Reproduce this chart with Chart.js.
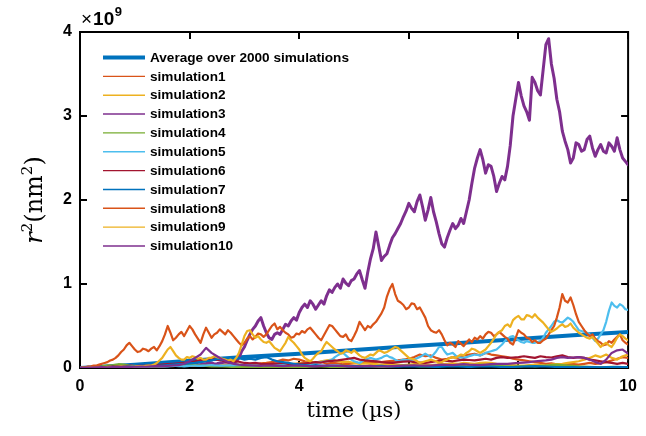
<!DOCTYPE html>
<html>
<head>
<meta charset="utf-8">
<script src="https://cdn.jsdelivr.net/npm/chart.js@4/dist/chart.umd.min.js"></script>
<style>
  html, body { margin: 0; padding: 0; background: #fff; }
  #c { display: block; }
</style>
</head>
<body>
<canvas id="c" width="646" height="436"></canvas>
<script>
// Mean squared displacement r^2 (in units of 1e9 nm^2) versus time (µs)
const COARSE_STEP_US = 0.1;   // sample spacing of the quieter trajectories
const FINE_STEP_US = 0.05;    // sample spacing of the large-excursion trajectories
const AVG_STEP_US = 1.0;      // sample spacing of the ensemble average

const xTicks = [0, 2, 4, 6, 8, 10];
const yTicks = [0, 1, 2, 3, 4];

const seriesNames = [
  'Average over 2000 simulations',
  'simulation1', 'simulation2', 'simulation3', 'simulation4', 'simulation5',
  'simulation6', 'simulation7', 'simulation8', 'simulation9', 'simulation10'
];

const average = [0, 0.04, 0.085, 0.13, 0.17, 0.215, 0.26, 0.3, 0.345, 0.39, 0.43];

const sim1 = [
  0, 0.004, 0.008, 0.01, 0.012, 0.015, 0.012, 0.018, 0.02, 0.016, 0.02,
  0.024, 0.02, 0.018, 0.025, 0.03, 0.026, 0.022, 0.03, 0.035, 0.03,
  0.028, 0.035, 0.04, 0.032, 0.03, 0.038, 0.045, 0.04, 0.035, 0.042,
  0.05, 0.045, 0.055, 0.06, 0.07, 0.08, 0.1, 0.09, 0.11, 0.1,
  0.08, 0.07, 0.06, 0.075, 0.05, 0.06, 0.055, 0.045, 0.05, 0.055,
  0.06, 0.07, 0.065, 0.075, 0.07, 0.08, 0.085, 0.09, 0.1, 0.11,
  0.13, 0.16, 0.14, 0.15, 0.12, 0.1, 0.11, 0.13, 0.12, 0.15,
  0.16, 0.17, 0.15, 0.18, 0.16, 0.15, 0.14, 0.13, 0.11, 0.1,
  0.09, 0.08, 0.07, 0.06, 0.05, 0.055, 0.045, 0.04, 0.05, 0.045,
  0.04, 0.05, 0.06, 0.05, 0.055, 0.07, 0.09, 0.11, 0.13, 0.12
];

const sim2 = [
  0, 0.003, 0.005, 0.008, 0.006, 0.01, 0.012, 0.01, 0.015, 0.012, 0.014,
  0.016, 0.02, 0.018, 0.022, 0.02, 0.025, 0.03, 0.028, 0.025, 0.03,
  0.035, 0.03, 0.028, 0.032, 0.04, 0.035, 0.03, 0.038, 0.04, 0.035,
  0.03, 0.035, 0.04, 0.045, 0.04, 0.05, 0.045, 0.04, 0.05, 0.055,
  0.06, 0.07, 0.065, 0.08, 0.09, 0.1, 0.08, 0.07, 0.075, 0.06,
  0.05, 0.055, 0.05, 0.045, 0.04, 0.05, 0.045, 0.04, 0.035, 0.04,
  0.045, 0.05, 0.04, 0.035, 0.04, 0.045, 0.05, 0.055, 0.05, 0.06,
  0.055, 0.05, 0.06, 0.065, 0.06, 0.05, 0.045, 0.04, 0.035, 0.03,
  0.03, 0.035, 0.04, 0.035, 0.03, 0.04, 0.045, 0.05, 0.06, 0.07,
  0.08, 0.1, 0.12, 0.15, 0.13, 0.16, 0.12, 0.1, 0.14, 0.16
];

// fine samples, two per 0.1 µs
const sim3 = [
  0, 0.004, 0.003, 0.008, 0.006, 0.004, 0.01, 0.014, 0.008, 0.012,
  0.012, 0.018, 0.015, 0.01, 0.012, 0.02, 0.018, 0.014, 0.02, 0.026,
  0.016, 0.022, 0.022, 0.018, 0.025, 0.03, 0.02, 0.026, 0.028, 0.022,
  0.03, 0.036, 0.026, 0.032, 0.035, 0.045, 0.04, 0.03, 0.033, 0.042,
  0.045, 0.055, 0.05, 0.04, 0.042, 0.05, 0.055, 0.065, 0.06, 0.048,
  0.05, 0.06, 0.065, 0.075, 0.07, 0.058, 0.06, 0.08, 0.12, 0.2,
  0.25, 0.33, 0.4, 0.46, 0.5, 0.56, 0.6, 0.5, 0.42, 0.36,
  0.34, 0.4, 0.42, 0.4, 0.46, 0.52, 0.5, 0.56, 0.6, 0.57,
  0.66, 0.72, 0.76, 0.72, 0.8, 0.76, 0.7, 0.75, 0.8, 0.76,
  0.86, 0.93, 0.9, 0.96, 1.0, 0.95, 1.06, 1.01, 0.98, 1.04,
  1.06, 1.12, 1.16, 1.05, 0.95, 1.14, 1.3, 1.42, 1.62, 1.45,
  1.28, 1.33, 1.36, 1.46, 1.55, 1.6, 1.66, 1.72, 1.8, 1.87,
  1.96, 1.9, 1.86, 1.98, 2.06, 1.92, 1.76, 1.88, 2.03, 1.86,
  1.74, 1.6, 1.48, 1.44, 1.55, 1.64, 1.72, 1.66, 1.7, 1.78,
  1.72, 1.86, 2.0, 2.2, 2.38, 2.5, 2.6, 2.48, 2.32, 2.42,
  2.4, 2.28, 2.1, 2.2, 2.28, 2.24, 2.4, 2.65, 3.0, 3.2,
  3.4, 3.24, 3.12, 3.05, 2.95, 3.46, 3.4, 3.3, 3.25, 3.55,
  3.85, 3.92, 3.62, 3.45, 3.2, 3.05, 2.82, 2.7, 2.6, 2.44,
  2.5, 2.68, 2.66, 2.58, 2.6, 2.72, 2.76, 2.62, 2.52, 2.6,
  2.66, 2.58, 2.56, 2.68, 2.64, 2.58, 2.74, 2.6, 2.5, 2.46,
  2.42
];

const sim4 = [
  0, 0.005, 0.01, 0.015, 0.02, 0.03, 0.035, 0.045, 0.04, 0.03, 0.025,
  0.02, 0.025, 0.02, 0.015, 0.02, 0.025, 0.03, 0.035, 0.04, 0.045,
  0.035, 0.03, 0.025, 0.02, 0.018, 0.02, 0.015, 0.012, 0.015, 0.01,
  0.012, 0.01, 0.008, 0.01, 0.012, 0.015, 0.012, 0.01, 0.008, 0.01,
  0.012, 0.015, 0.02, 0.018, 0.015, 0.012, 0.01, 0.012, 0.015, 0.02,
  0.025, 0.02, 0.018, 0.015, 0.012, 0.015, 0.02, 0.025, 0.03, 0.028,
  0.025, 0.02, 0.022, 0.018, 0.02, 0.025, 0.03, 0.035, 0.03, 0.028,
  0.03, 0.035, 0.04, 0.035, 0.03, 0.025, 0.022, 0.02, 0.018, 0.02,
  0.022, 0.025, 0.02, 0.025, 0.03, 0.035, 0.04, 0.035, 0.03, 0.025,
  0.02, 0.018, 0.015, 0.012, 0.01, 0.012, 0.015, 0.012, 0.01, 0.012
];

// fine samples, two per 0.1 µs
const sim5 = [
  0, 0.002, 0.004, 0.005, 0.006, 0.007, 0.008, 0.009, 0.01, 0.011,
  0.012, 0.011, 0.01, 0.012, 0.014, 0.015, 0.016, 0.014, 0.012, 0.014,
  0.015, 0.017, 0.018, 0.016, 0.015, 0.018, 0.02, 0.021, 0.022, 0.02,
  0.018, 0.019, 0.02, 0.023, 0.025, 0.024, 0.022, 0.021, 0.02, 0.023,
  0.025, 0.027, 0.028, 0.026, 0.025, 0.028, 0.03, 0.033, 0.035, 0.032,
  0.03, 0.029, 0.028, 0.03, 0.032, 0.031, 0.03, 0.033, 0.035, 0.038,
  0.04, 0.037, 0.035, 0.032, 0.03, 0.033, 0.035, 0.038, 0.04, 0.043,
  0.045, 0.042, 0.04, 0.037, 0.035, 0.038, 0.04, 0.043, 0.045, 0.042,
  0.04, 0.045, 0.05, 0.052, 0.055, 0.058, 0.06, 0.066, 0.07, 0.076,
  0.08, 0.09, 0.1, 0.13, 0.15, 0.17, 0.18, 0.15, 0.12, 0.1,
  0.08, 0.07, 0.06, 0.08, 0.1, 0.11, 0.12, 0.11, 0.1, 0.11,
  0.12, 0.14, 0.15, 0.13, 0.12, 0.1, 0.08, 0.09, 0.1, 0.095,
  0.09, 0.095, 0.1, 0.115, 0.13, 0.15, 0.17, 0.15, 0.13, 0.16,
  0.2, 0.25, 0.25, 0.2, 0.16, 0.17, 0.18, 0.15, 0.13, 0.125,
  0.12, 0.13, 0.14, 0.15, 0.16, 0.155, 0.15, 0.165, 0.18, 0.19,
  0.2, 0.21, 0.22, 0.25, 0.28, 0.32, 0.35, 0.37, 0.38, 0.35,
  0.33, 0.31, 0.3, 0.32, 0.31, 0.3, 0.3, 0.31, 0.32, 0.36,
  0.42, 0.46, 0.5, 0.55, 0.57, 0.55, 0.54, 0.57, 0.6, 0.58,
  0.55, 0.5, 0.45, 0.44, 0.43, 0.42, 0.4, 0.36, 0.32, 0.35,
  0.4, 0.45, 0.55, 0.68, 0.78, 0.74, 0.72, 0.76, 0.74, 0.7,
  0.69
];

const sim6 = [
  0, 0.005, 0.008, 0.01, 0.012, 0.015, 0.02, 0.018, 0.022, 0.025, 0.02,
  0.025, 0.03, 0.028, 0.035, 0.04, 0.045, 0.05, 0.055, 0.06, 0.065,
  0.08, 0.1, 0.085, 0.12, 0.1, 0.09, 0.07, 0.08, 0.075, 0.06,
  0.055, 0.06, 0.05, 0.045, 0.05, 0.055, 0.06, 0.05, 0.045, 0.05,
  0.055, 0.06, 0.07, 0.065, 0.08, 0.085, 0.09, 0.1, 0.11, 0.12,
  0.1, 0.09, 0.085, 0.08, 0.07, 0.065, 0.06, 0.07, 0.075, 0.08,
  0.07, 0.065, 0.06, 0.07, 0.08, 0.09, 0.085, 0.08, 0.09, 0.1,
  0.095, 0.09, 0.1, 0.11, 0.1, 0.12, 0.13, 0.12, 0.125, 0.13,
  0.14, 0.13, 0.12, 0.14, 0.13, 0.125, 0.14, 0.15, 0.13, 0.12,
  0.13, 0.12, 0.1, 0.09, 0.08, 0.07, 0.06, 0.05, 0.06, 0.05
];

const sim7 = [
  0, 0.003, 0.005, 0.008, 0.01, 0.012, 0.015, 0.012, 0.018, 0.02, 0.022,
  0.025, 0.028, 0.03, 0.025, 0.03, 0.035, 0.04, 0.045, 0.05, 0.055,
  0.06, 0.07, 0.08, 0.09, 0.11, 0.1, 0.09, 0.1, 0.12, 0.1,
  0.11, 0.1, 0.12, 0.13, 0.1, 0.08, 0.07, 0.06, 0.05, 0.04,
  0.035, 0.03, 0.035, 0.03, 0.025, 0.028, 0.03, 0.025, 0.02, 0.022,
  0.02, 0.018, 0.02, 0.022, 0.025, 0.02, 0.018, 0.015, 0.018, 0.02,
  0.022, 0.02, 0.018, 0.015, 0.012, 0.015, 0.018, 0.02, 0.018, 0.015,
  0.012, 0.015, 0.018, 0.02, 0.018, 0.015, 0.012, 0.01, 0.012, 0.015,
  0.018, 0.02, 0.022, 0.02, 0.018, 0.015, 0.012, 0.01, 0.012, 0.01,
  0.008, 0.01, 0.012, 0.01, 0.008, 0.01, 0.012, 0.015, 0.012, 0.01
];

// fine samples, two per 0.1 µs
const sim8 = [
  0, 0.006, 0.01, 0.016, 0.02, 0.028, 0.03, 0.04, 0.05, 0.06,
  0.07, 0.09, 0.1, 0.12, 0.15, 0.19, 0.22, 0.27, 0.3, 0.26,
  0.22, 0.19, 0.2, 0.23, 0.22, 0.2, 0.23, 0.25, 0.21, 0.26,
  0.32, 0.4, 0.5, 0.42, 0.33, 0.36, 0.4, 0.43, 0.38, 0.44,
  0.5, 0.46, 0.4, 0.35, 0.3, 0.4, 0.48, 0.42, 0.36, 0.4,
  0.42, 0.46, 0.43, 0.4, 0.45, 0.42, 0.38, 0.34, 0.3, 0.27,
  0.3, 0.35, 0.38, 0.34, 0.37, 0.41, 0.4, 0.37, 0.4, 0.45,
  0.5, 0.53, 0.46, 0.49, 0.45, 0.42, 0.4, 0.36, 0.37, 0.41,
  0.4, 0.44, 0.42, 0.46, 0.48, 0.44, 0.4, 0.36, 0.33, 0.39,
  0.45, 0.51, 0.5, 0.46, 0.42, 0.38, 0.37, 0.4, 0.34, 0.32,
  0.38, 0.45, 0.55, 0.5, 0.45, 0.5, 0.48, 0.52, 0.55, 0.6,
  0.65, 0.72, 0.85, 0.94, 1.0, 0.88, 0.8, 0.78, 0.75, 0.7,
  0.72, 0.77, 0.76, 0.7, 0.72, 0.66, 0.6, 0.5, 0.45, 0.43,
  0.42, 0.45, 0.4, 0.33, 0.27, 0.3, 0.28, 0.25, 0.32, 0.29,
  0.26, 0.3, 0.34, 0.31, 0.36, 0.34, 0.38, 0.35, 0.4, 0.43,
  0.42, 0.38, 0.4, 0.43, 0.4, 0.37, 0.35, 0.3, 0.28, 0.36,
  0.45, 0.42, 0.4, 0.36, 0.35, 0.31, 0.33, 0.3, 0.3, 0.33,
  0.35, 0.4, 0.45, 0.5, 0.6, 0.72, 0.88, 0.8, 0.78, 0.84,
  0.75, 0.64, 0.55, 0.5, 0.45, 0.41, 0.38, 0.4, 0.35, 0.32,
  0.3, 0.27, 0.28, 0.32, 0.3, 0.34, 0.37, 0.4, 0.33, 0.3,
  0.28
];

// fine samples, two per 0.1 µs
const sim9 = [
  0, 0.002, 0.003, 0.005, 0.006, 0.004, 0.008, 0.012, 0.01, 0.008,
  0.012, 0.015, 0.01, 0.013, 0.015, 0.02, 0.018, 0.014, 0.015, 0.018,
  0.02, 0.024, 0.022, 0.02, 0.025, 0.028, 0.03, 0.04, 0.06, 0.09,
  0.12, 0.17, 0.22, 0.25, 0.2, 0.15, 0.12, 0.1, 0.1, 0.13,
  0.12, 0.14, 0.13, 0.11, 0.12, 0.1, 0.1, 0.12, 0.12, 0.14,
  0.13, 0.12, 0.11, 0.1, 0.09, 0.1, 0.08, 0.12, 0.18, 0.28,
  0.38, 0.44, 0.45, 0.4, 0.36, 0.38, 0.34, 0.31, 0.3, 0.32,
  0.28, 0.24, 0.22, 0.2, 0.25, 0.3, 0.37, 0.33, 0.3, 0.26,
  0.22, 0.16, 0.12, 0.1, 0.08, 0.11, 0.15, 0.18, 0.2, 0.26,
  0.31, 0.28, 0.25, 0.22, 0.2, 0.17, 0.18, 0.21, 0.2, 0.18,
  0.21, 0.18, 0.15, 0.13, 0.12, 0.14, 0.16, 0.15, 0.18, 0.21,
  0.2, 0.18, 0.19, 0.21, 0.23, 0.25, 0.24, 0.21, 0.18, 0.15,
  0.12, 0.11, 0.1, 0.08, 0.06, 0.07, 0.08, 0.09, 0.1, 0.09,
  0.08, 0.06, 0.07, 0.09, 0.1, 0.12, 0.13, 0.12, 0.14, 0.16,
  0.15, 0.18, 0.2, 0.23, 0.22, 0.2, 0.18, 0.2, 0.22, 0.26,
  0.3, 0.35, 0.4, 0.43, 0.45, 0.5, 0.52, 0.49, 0.57, 0.6,
  0.62, 0.58, 0.58, 0.63, 0.62, 0.6, 0.64, 0.6, 0.57, 0.54,
  0.5, 0.46, 0.43, 0.45, 0.47, 0.5, 0.52, 0.49, 0.5, 0.53,
  0.48, 0.45, 0.42, 0.4, 0.38, 0.36, 0.35, 0.37, 0.33, 0.29,
  0.25, 0.28, 0.3, 0.27, 0.25, 0.3, 0.36, 0.4, 0.38, 0.35,
  0.33
];

const sim10 = [
  0, 0.004, 0.006, 0.008, 0.01, 0.008, 0.012, 0.01, 0.014, 0.012, 0.015,
  0.018, 0.015, 0.02, 0.022, 0.02, 0.025, 0.03, 0.035, 0.05, 0.08,
  0.12, 0.16, 0.24, 0.18, 0.14, 0.1, 0.07, 0.05, 0.04, 0.035,
  0.03, 0.028, 0.025, 0.03, 0.028, 0.025, 0.022, 0.025, 0.03, 0.028,
  0.025, 0.022, 0.02, 0.025, 0.028, 0.03, 0.025, 0.022, 0.02, 0.018,
  0.02, 0.022, 0.025, 0.02, 0.018, 0.02, 0.022, 0.025, 0.028, 0.03,
  0.032, 0.03, 0.028, 0.03, 0.035, 0.04, 0.038, 0.035, 0.04, 0.045,
  0.04, 0.038, 0.035, 0.04, 0.045, 0.05, 0.048, 0.05, 0.055, 0.06,
  0.065, 0.07, 0.08, 0.085, 0.09, 0.1, 0.12, 0.13, 0.12, 0.125,
  0.13, 0.12, 0.1, 0.07, 0.05, 0.1, 0.18, 0.21, 0.22, 0.17
];

// MATLAB default line colour order
const colors = {
  blue: '#0072BD', orange: '#D95319', yellow: '#EDB120', purple: '#7E2F8E',
  green: '#77AC30', cyan: '#4DBEEE', wine: '#A2142F'
};

// pair each sample with its time stamp
function toPoints(values, step) {
  return values.map((v, i) => ({ x: i * step, y: v }));
}

const simSeries = [
  { vals: sim1, step: COARSE_STEP_US, color: colors.orange },
  { vals: sim2, step: COARSE_STEP_US, color: colors.yellow },
  { vals: sim3, step: FINE_STEP_US, color: colors.purple },
  { vals: sim4, step: COARSE_STEP_US, color: colors.green },
  { vals: sim5, step: FINE_STEP_US, color: colors.cyan },
  { vals: sim6, step: COARSE_STEP_US, color: colors.wine },
  { vals: sim7, step: COARSE_STEP_US, color: colors.blue },
  { vals: sim8, step: FINE_STEP_US, color: colors.orange },
  { vals: sim9, step: FINE_STEP_US, color: colors.yellow },
  { vals: sim10, step: COARSE_STEP_US, color: colors.purple }
];

const datasets = [{
  label: seriesNames[0],
  data: toPoints(average, AVG_STEP_US),
  borderColor: colors.blue,
  borderWidth: 4,
  order: 20
}];
simSeries.forEach((s, i) => {
  datasets.push({
    label: seriesNames[i + 1],
    data: toPoints(s.vals, s.step),
    borderColor: s.color,
    borderWidth: i === 2 ? 3 : 2.2,
    order: 10 - i
  });
});

const tickFont = { family: "'Liberation Sans', Arial, Helvetica, sans-serif", size: 16, weight: 'bold' };

// box around the axes with inward-pointing tick marks on all four sides
const axesBox = {
  id: 'axesBox',
  beforeDatasetsDraw(chart) {
    const { ctx, chartArea: a, scales: { x, y } } = chart;
    const len = 7;
    ctx.save();
    ctx.strokeStyle = '#000';
    ctx.lineWidth = 2;
    ctx.beginPath();
    xTicks.forEach(v => {
      const px = Math.round(x.getPixelForValue(v));
      ctx.moveTo(px, a.bottom); ctx.lineTo(px, a.bottom - len);
      ctx.moveTo(px, a.top); ctx.lineTo(px, a.top + len);
    });
    yTicks.forEach(v => {
      const py = Math.round(y.getPixelForValue(v));
      ctx.moveTo(a.left, py); ctx.lineTo(a.left + len, py);
      ctx.moveTo(a.right, py); ctx.lineTo(a.right - len, py);
    });
    ctx.stroke();
    ctx.strokeRect(a.left, a.top, a.right - a.left, a.bottom - a.top);
    ctx.restore();
  }
};

// legend inside the axes, upper-left, without a frame
const insideLegend = {
  id: 'insideLegend',
  afterDatasetsDraw(chart) {
    const { ctx, chartArea: a } = chart;
    const x0 = a.left + 23, lineLen = 42, gap = 5;
    const y0 = a.top + 25.5, rowH = 18.85;
    ctx.save();
    ctx.font = "bold 13.6px 'Liberation Sans', Arial, Helvetica, sans-serif";
    ctx.textBaseline = 'middle';
    ctx.textAlign = 'left';
    chart.data.datasets.forEach((ds, i) => {
      const yy = y0 + i * rowH;
      ctx.strokeStyle = ds.borderColor;
      ctx.lineWidth = i === 0 ? 4 : 1.4;
      ctx.beginPath();
      ctx.moveTo(x0, yy);
      ctx.lineTo(x0 + lineLen, yy);
      ctx.stroke();
      ctx.fillStyle = '#000';
      ctx.fillText(ds.label, x0 + lineLen + gap, yy + 0.5);
    });
    ctx.restore();
  }
};

// y-axis label r^2 (nm^2) and the x10^9 multiplier above the axis
const axisLabels = {
  id: 'axisLabels',
  afterDraw(chart) {
    const { ctx, chartArea: a } = chart;
    ctx.save();
    ctx.fillStyle = '#000';
    // rotated y label assembled from pieces so r can be italic with superscripts
    const big = 24, small = 15;
    const serif = "'DejaVu Serif', 'Liberation Serif', serif";
    const parts = [
      { t: 'r', f: `italic ${big}px ${serif}`, dy: 0 },
      { t: '2', f: `${small}px ${serif}`, dy: -10 },
      { t: '(nm', f: `${big}px ${serif}`, dy: 0 },
      { t: '2', f: `${small}px ${serif}`, dy: -10 },
      { t: ')', f: `${big}px ${serif}`, dy: 0 }
    ];
    let total = 0;
    parts.forEach(p => { ctx.font = p.f; p.w = ctx.measureText(p.t).width; total += p.w; });
    ctx.translate(42, (a.top + a.bottom) / 2);
    ctx.rotate(-Math.PI / 2);
    ctx.textBaseline = 'alphabetic';
    let cx = -total / 2;
    parts.forEach(p => { ctx.font = p.f; ctx.fillText(p.t, cx, p.dy); cx += p.w; });
    ctx.setTransform(1, 0, 0, 1, 0, 0);

    // exponent of the y-axis
    ctx.textBaseline = 'alphabetic';
    ctx.font = "19px 'Liberation Sans', Arial, sans-serif";
    ctx.fillText('×', a.left + 1, 25);
    let ex = a.left + 1 + ctx.measureText('×').width + 1;
    ctx.font = "bold 19px 'Liberation Sans', Arial, sans-serif";
    ctx.fillText('10', ex, 25);
    ex += ctx.measureText('10').width;
    ctx.font = "bold 13px 'Liberation Sans', Arial, sans-serif";
    ctx.fillText('9', ex + 0.5, 16);
    ctx.restore();
  }
};

new Chart(document.getElementById('c'), {
  type: 'line',
  data: { datasets },
  options: {
    responsive: false,
    animation: false,
    events: [],
    layout: { padding: { left: 0, right: 9, top: 32, bottom: 0 } },
    elements: {
      point: { radius: 0 },
      line: { tension: 0, borderJoinStyle: 'round', borderCapStyle: 'round' }
    },
    plugins: { legend: { display: false }, tooltip: { enabled: false } },
    scales: {
      x: {
        type: 'linear', min: 0, max: 10,
        afterFit: s => { s.height = 68; },
        afterBuildTicks: s => { s.ticks = xTicks.map(v => ({ value: v })); },
        border: { display: false },
        grid: { display: false, drawTicks: false },
        ticks: { color: '#000', font: tickFont, padding: 9, maxRotation: 0, autoSkip: false },
        title: {
          display: true, text: 'time (µs)', color: '#000',
          font: { family: "'DejaVu Serif', 'Liberation Serif', serif", size: 21 },
          padding: { top: 0, bottom: 12 }
        }
      },
      y: {
        type: 'linear', min: 0, max: 4,
        afterFit: s => { s.width = 80; },
        afterBuildTicks: s => { s.ticks = yTicks.map(v => ({ value: v })); },
        border: { display: false },
        grid: { display: false, drawTicks: false },
        ticks: { color: '#000', font: tickFont, padding: 8 }
      }
    }
  },
  plugins: [axesBox, insideLegend, axisLabels]
});
</script>
</body>
</html>
